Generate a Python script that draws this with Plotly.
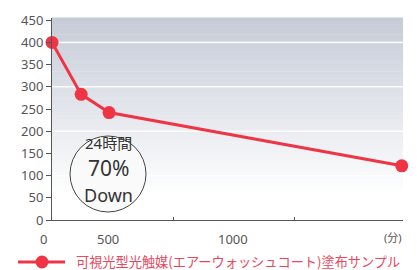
import plotly.graph_objects as go

# data (minutes, value)
minutes = [0, 120, 235, 1440]
values = [400, 283, 242, 122]
series_name = "可視光型光触媒(エアーウォッシュコート)塗布サンプル"

y_ticks = [0, 50, 100, 150, 200, 250, 300, 350, 400, 450]
grid_vals = [100, 200, 300, 400]
x_minor_ticks = [500, 1000]
x_label_text = ["0", "500", "1000", "(分)"]
x_label_pos = [-37, 231, 747, 1405]

badge_lines = ["24時間", "70%", "Down"]

X_MAX = 1445
RED = "#ef3545"
AX = "#555555"
FONT = "Noto Sans, Noto Sans CJK JP, sans-serif"

# plot area in pixels (for converting decorations to paper coords)
L, R, T, B, W, H = 52, 14, 18, 50, 417, 270
PW, PH = W - L - R, H - T - B


def px(xp):
    return (xp - L) / PW


def py(yp):
    return (H - B - yp) / PH


fig = go.Figure()
fig.add_trace(go.Scatter(
    x=minutes, y=values, mode="lines+markers", name=series_name,
    line=dict(color=RED, width=3),
    marker=dict(color=RED, size=13),
    cliponaxis=False, showlegend=False,
))

shapes = []
# gradient background
n = 60
top = (197, 202, 215)
for i in range(n):
    y0 = i / n
    y1 = (i + 1) / n
    t = (y0 + y1) / 2
    f = max(0.0, min(1.0, (t - 0.12) / 0.88))
    c = tuple(int(round(255 + (top[k] - 255) * f)) for k in range(3))
    shapes.append(dict(type="rect", xref="paper", yref="paper", x0=0, x1=1,
                       y0=y0, y1=y1 + 0.002, line=dict(width=0),
                       fillcolor="rgb(%d,%d,%d)" % c, layer="below"))
for g in grid_vals:
    shapes.append(dict(type="line", xref="paper", yref="y", x0=0, x1=1, y0=g, y1=g,
                       line=dict(color="rgba(255,255,255,0.9)", width=1.5), layer="below"))
# badge circle
shapes.append(dict(type="circle", xref="paper", yref="paper",
                   x0=px(70), x1=px(146), y0=py(212), y1=py(136),
                   line=dict(color="#444444", width=1), fillcolor="rgba(250,250,250,0.9)",
                   layer="above"))
# legend key (line + dot)
shapes.append(dict(type="line", xref="paper", yref="paper",
                   x0=px(18), x1=px(65), y0=py(262), y1=py(262),
                   line=dict(color=RED, width=3), layer="above"))
shapes.append(dict(type="circle", xref="paper", yref="paper",
                   x0=px(35.5), x1=px(48.5), y0=py(268.5), y1=py(255.5),
                   line=dict(color=RED, width=0), fillcolor=RED, layer="above"))

annotations = []
for txt, xp in zip(x_label_text, x_label_pos):
    annotations.append(dict(x=xp / X_MAX, y=-0.04, xref="paper", yref="paper", text=txt,
                            showarrow=False, xanchor="center", yanchor="top",
                            font=dict(size=13 if txt != "(分)" else 11, color=AX, family=FONT)))
badge_py = [143, 168, 195]
badge_size = [15, 21, 18]
for txt, yp, s in zip(badge_lines, badge_py, badge_size):
    annotations.append(dict(x=px(108), y=py(yp), xref="paper", yref="paper", text=txt,
                            showarrow=False, xanchor="center", yanchor="middle",
                            font=dict(size=s, color="#333333", family=FONT)))
annotations.append(dict(x=px(74), y=py(261), xref="paper", yref="paper", text=series_name,
                        showarrow=False, xanchor="left", yanchor="middle",
                        font=dict(size=13.2, color="#e8475d", family="Noto Sans CJK JP")))

fig.update_layout(
    width=W, height=H,
    margin=dict(l=L, r=R, t=T, b=B, autoexpand=False),
    paper_bgcolor="white", plot_bgcolor="rgba(0,0,0,0)",
    font=dict(family=FONT, color=AX),
    shapes=shapes, annotations=annotations,
    showlegend=False,
    xaxis=dict(range=[0, X_MAX], showgrid=False, zeroline=False, automargin=False,
               showline=True, linecolor=AX, linewidth=1,
               tickvals=[], showticklabels=False,
               minor=dict(tickvals=x_minor_ticks, ticks="inside", ticklen=3,
                          tickcolor=AX, tickwidth=1)),
    yaxis=dict(range=[0, 455], showgrid=False, zeroline=False, automargin=False,
               showline=True, linecolor=AX, linewidth=1,
               tickvals=y_ticks, ticks="outside", ticklen=5, tickcolor=AX,
               tickfont=dict(size=13, color=AX, family=FONT)),
)

fig.write_html("out.html", config={"displayModeBar": False},
               post_script="document.body.style.margin='0';")
